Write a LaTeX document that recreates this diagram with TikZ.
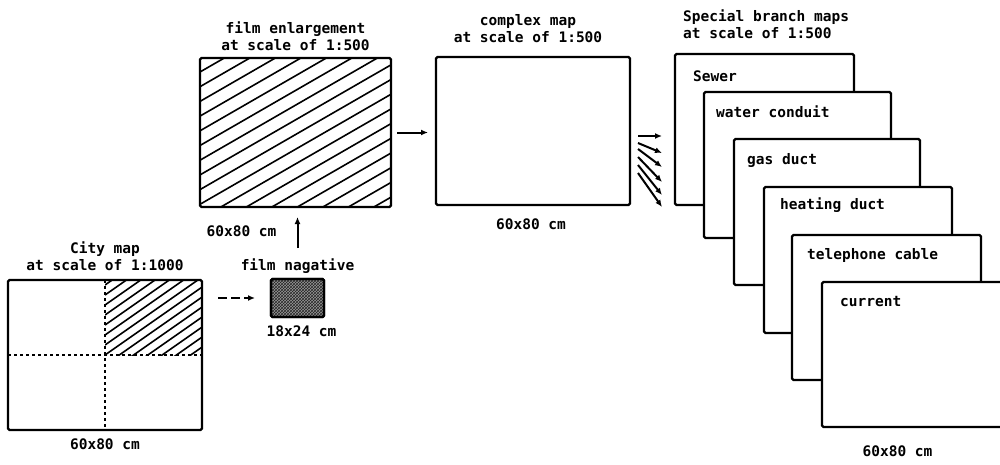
\documentclass[tikz,border=0pt]{standalone}
\usepackage{fontspec}
\setmonofont{DejaVu Sans Mono}
\usetikzlibrary{positioning, arrows.meta, calc, patterns}

\begin{document}
\begin{tikzpicture}[
    x=1pt, y=-1pt,
    font=\ttfamily\bfseries\fontsize{14.5}{17}\selectfont,
    every node/.style={align=center, inner sep=0pt},
    %% map sheet: a thick framed rectangle, placed by its top-left corner
    sheet/.style={
        draw, line width=2.2pt, rounded corners=1.5pt,
        outer sep=0pt, anchor=north west
    },
    %% dashed cut lines on the city map
    divider/.style={line width=1.3pt, dash pattern=on 3pt off 3pt},
    %% hatching of enlarged parts
    hatch/.style={line width=1.6pt},
    %% process arrows
    flow/.style={-{Latex[length=7pt, width=6pt]}, line width=2pt},
    dflow/.style={flow, dash pattern=on 9pt off 4pt}
]
\useasboundingbox (0,0) rectangle (1000,464);

%%-------------------------------------------------------------- sheets
\node[sheet, minimum width=194pt, minimum height=150pt] (city)     at (8,280)   {};
\node[sheet, minimum width=191pt, minimum height=149pt] (enlarge)  at (200,58)  {};
\node[sheet, minimum width=194pt, minimum height=148pt] (complex)  at (436,57)  {};
\node[sheet, fill=black!40,
      minimum width=53pt, minimum height=38pt]          (negative) at (271,279) {};

% hatching: enlarged quarter of the city map
\begin{scope}
    \clip (city.north) rectangle (city.east);
    \foreach \k in {0,...,15}
        \draw[hatch] ($(city.north)+(0,5+10*\k)$) -- ++(150,-105);
\end{scope}
\draw[divider] (city.north) -- (city.south);
\draw[divider] (city.west)  -- (city.east);

% hatching: film enlargement
\begin{scope}
    \clip (enlarge.south west) rectangle (enlarge.north east);
    \foreach \k in {0,...,17}
        \draw[hatch] ($(enlarge.north west)+(0,14+14.7*\k)$) -- ++(420,-242);
\end{scope}

% film negative texture
\fill[pattern=crosshatch, pattern color=black!85]
    (negative.south west) rectangle (negative.north east);
\draw[line width=2.2pt, rounded corners=1.5pt]
    (negative.south west) rectangle (negative.north east);

% special branch maps, stacked front to back
\foreach \name/\txt/\xa/\ya/\w/\h/\dx/\dy in {
    sewer/Sewer/675/54/179/151/18/22,
    water/water conduit/704/92/187/146/12/20,
    gas/gas duct/734/139/186/146/13/21,
    heating/heating duct/764/187/188/146/16/18,
    phone/telephone cable/792/235/189/145/15/20,
    current/current/822/282/189/145/18/20}
{
    \node[sheet, fill=white, minimum width=\w pt, minimum height=\h pt] (\name) at (\xa,\ya) {};
    \node[anchor=west] (\name-lbl) at ([shift={(\dx pt,-\dy pt)}]\name.north west) {\txt};
}

%%-------------------------------------------------------------- labels
\node[above=9pt of city]                    (city-title)    {City map\\at scale of 1:1000};
\node[below=9pt of city]                    (city-size)     {60x80 cm};

\node[above=7pt of enlarge]                 (enlarge-title) {film enlargement\\at scale of 1:500};
\node[below=19pt of enlarge, xshift=-54pt]  (enlarge-size)  {60x80 cm};

\node[above=14pt of complex, xshift=-5pt]   (complex-title) {complex map\\at scale of 1:500};
\node[below=14pt of complex, xshift=-2pt]   (complex-size)  {60x80 cm};

\node[above=5pt of negative]                (negative-title) {film nagative};
\node[below=9pt of negative, xshift=4pt]    (negative-size)  {18x24 cm};

\node[anchor=south west, align=left]
    (branch-title) at ([shift={(8pt,15pt)}]sewer.north west) {Special branch maps\\at scale of 1:500};
\node[below=19pt of current, xshift=-19pt]  (branch-size)   {60x80 cm};

%%-------------------------------------------------------------- arrows
% city map photographed onto the negative
\draw[dflow, shorten <=16pt, shorten >=16pt] (negative.west -| city.east) -- (negative.west);

% negative enlarged
\draw[flow, shorten <=31pt, shorten >=10pt] (negative.north) -- (negative.north |- enlarge.south);

% enlargement becomes the complex map
\draw[flow, shorten <=6pt, shorten >=8pt] (enlarge.east) -- (enlarge.east -| complex.west);

% complex map split into the branch maps
\foreach \i/\ya/\yb in {1/136/136, 2/143/153, 3/149/167, 4/157/182, 5/165/195, 6/173/207} {
    \coordinate (fan-s\i) at (638,\ya);
    \coordinate (fan-e\i) at (662,\yb);
    \draw[flow] (fan-s\i) -- (fan-e\i);
}

\end{tikzpicture}
\end{document}
